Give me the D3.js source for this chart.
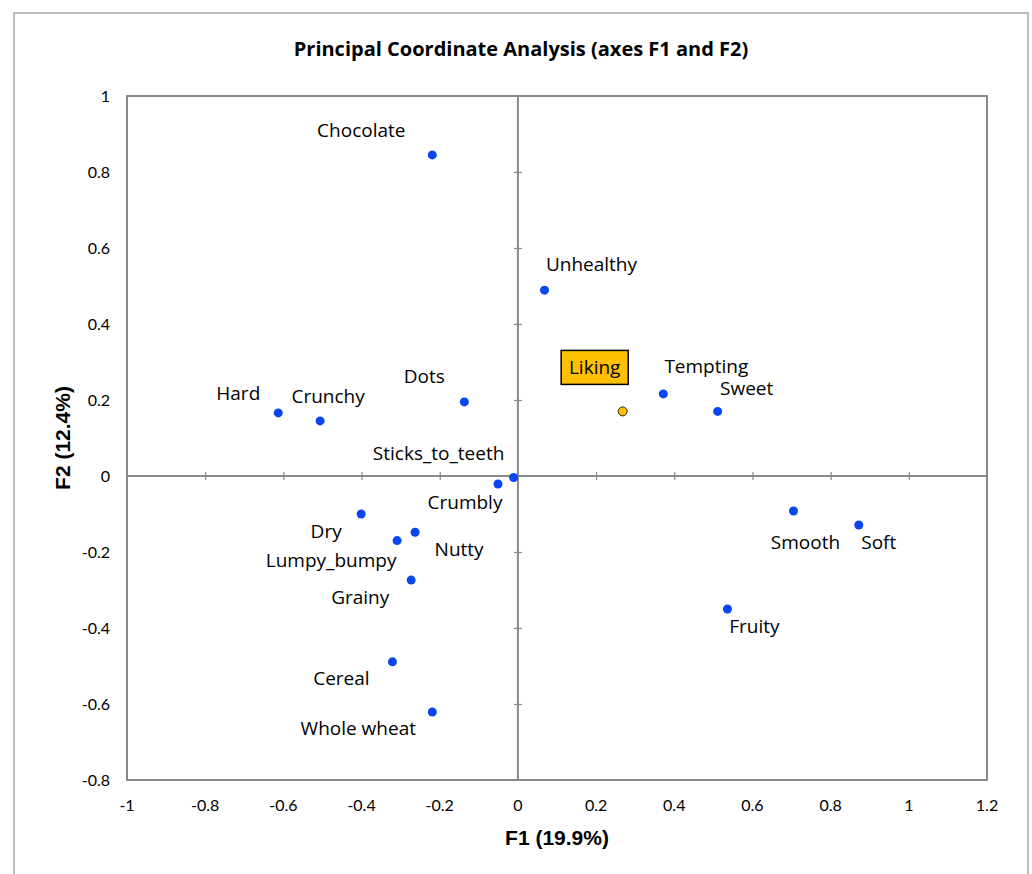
<!DOCTYPE html>
<html><head><meta charset="utf-8">
<script src="https://cdn.jsdelivr.net/npm/d3@7"></script>
<style>body{margin:0;background:#fff}</style>
</head><body>
<svg id="c" width="1032" height="874"></svg>
<script>
// ---- data ----
const names = ["Chocolate","Unhealthy","Dots","Hard","Crunchy","Sticks_to_teeth","Crumbly","Dry","Nutty","Lumpy_bumpy","Grainy","Cereal","Whole wheat","Tempting","Sweet","Smooth","Soft","Fruity","Liking"];
const f1 = [-0.219,0.068,-0.137,-0.613,-0.506,-0.011,-0.051,-0.401,-0.263,-0.309,-0.273,-0.321,-0.219,0.372,0.511,0.705,0.872,0.536,0.268];
const f2 = [0.845,0.489,0.195,0.166,0.145,-0.004,-0.021,-0.100,-0.148,-0.170,-0.274,-0.489,-0.621,0.216,0.170,-0.092,-0.129,-0.350,0.170];
const kinds = ["v","v","v","v","v","v","v","v","v","v","v","v","v","v","v","v","v","v","sup"];
const xTicks = [-1,-0.8,-0.6,-0.4,-0.2,0,0.2,0.4,0.6,0.8,1,1.2];
const yTicks = [-0.8,-0.6,-0.4,-0.2,0,0.2,0.4,0.6,0.8,1];
// label offsets (layout, px)
const labelDx = [-71,47,-40,-40,8,-75,-33,-35,44,-66,-51,-51,-74,43,29,12,20,27,-28];
const labelDy = [-25,-26,-26,-20,-25,-24,18,17,17,20,17,17,16,-28,-23,31,17,17,-44];

const svg = d3.select("#c");
const x = d3.scaleLinear().domain([-1,1.2]).range([127,987]);
const y = d3.scaleLinear().domain([-0.8,1]).range([780,96]);
const grey="#898989";
const lblFont="'Open Sans', sans-serif";
const tickFont="Lato, 'Open Sans', sans-serif";

// outer border
svg.append("rect").attr("x",14).attr("y",13).attr("width",1014).attr("height",900)
  .attr("fill","none").attr("stroke","#a6a6a6").attr("stroke-width",1.5);

// title
svg.append("text").attr("x",521).attr("y",56).attr("text-anchor","middle")
  .attr("font-family",lblFont).attr("font-weight","bold").attr("font-size",20)
  .text("Principal Coordinate Analysis (axes F1 and F2)");

// plot frame
svg.append("rect").attr("x",x(-1)).attr("y",y(1)).attr("width",x(1.2)-x(-1)).attr("height",y(-0.8)-y(1))
  .attr("fill","none").attr("stroke",grey).attr("stroke-width",2);

// zero axes with crossing ticks
const xAx = d3.axisBottom(x).tickValues(xTicks.filter(d=>d>-1&&d<1.2)).tickSize(4).tickSizeOuter(0).tickFormat("");
const gx = svg.append("g").attr("transform",`translate(0,${y(0)})`).call(xAx);
gx.selectAll("line").attr("y1",-4);
const yAx = d3.axisLeft(y).tickValues(yTicks.filter(d=>d>-0.8&&d<1)).tickSize(4).tickSizeOuter(0).tickFormat("");
const gy = svg.append("g").attr("transform",`translate(${x(0)},0)`).call(yAx);
gy.selectAll("line").attr("x1",4);
svg.selectAll(".domain").attr("stroke",grey).attr("stroke-width",2);
svg.selectAll(".tick line").attr("stroke",grey).attr("stroke-width",1.2);
gx.select(".domain").attr("d",`M${x(-1)},0H${x(1.2)}`);
gy.select(".domain").attr("d",`M0,${y(1)}V${y(-0.8)}`);

// tick labels
const fmt = d=>String(d);
svg.append("g").selectAll("text").data(xTicks).join("text")
  .attr("x",d=>x(d)).attr("y",811).attr("text-anchor","middle")
  .attr("font-family",tickFont).attr("font-size",16).attr("fill","#000").text(fmt);
svg.append("g").selectAll("text").data(yTicks).join("text")
  .attr("x",110).attr("y",d=>y(d)).attr("dy","0.35em").attr("text-anchor","end")
  .attr("font-family",tickFont).attr("font-size",16).attr("fill","#000").text(fmt);

// axis titles
svg.append("text").attr("x",557).attr("y",845).attr("text-anchor","middle")
  .attr("font-family","'Liberation Sans', Arial, sans-serif").attr("font-weight","bold").attr("font-size",21)
  .text("F1 (19.9%)");
svg.append("text").attr("transform","translate(70,438) rotate(-90)").attr("text-anchor","middle")
  .attr("font-family","'Liberation Sans', Arial, sans-serif").attr("font-weight","bold").attr("font-size",21)
  .text("F2 (12.4%)");

// points
const idx = d3.range(names.length);
svg.append("g").selectAll("circle").data(idx).join("circle")
  .attr("cx",i=>x(f1[i])).attr("cy",i=>y(f2[i])).attr("r",4.5)
  .attr("fill",i=>kinds[i]==="sup"?"#ffc000":"#0a46f0")
  .attr("stroke",i=>kinds[i]==="sup"?"#222":"none").attr("stroke-width",1);

// labels
const lg = svg.append("g");
idx.forEach(i=>{
  const cx = x(f1[i])+labelDx[i], cy = y(f2[i])+labelDy[i];
  if(kinds[i]==="sup"){
    lg.append("rect").attr("x",cx-33.5).attr("y",cy-17).attr("width",67).attr("height",34)
      .attr("fill","#ffc000").attr("stroke","#000").attr("stroke-width",1.5);
  }
  lg.append("text").attr("x",cx).attr("y",cy).attr("dy","0.35em").attr("text-anchor","middle")
    .attr("font-family",lblFont).attr("font-size",19).attr("fill","#000").text(names[i]);
});
</script>
</body></html>
